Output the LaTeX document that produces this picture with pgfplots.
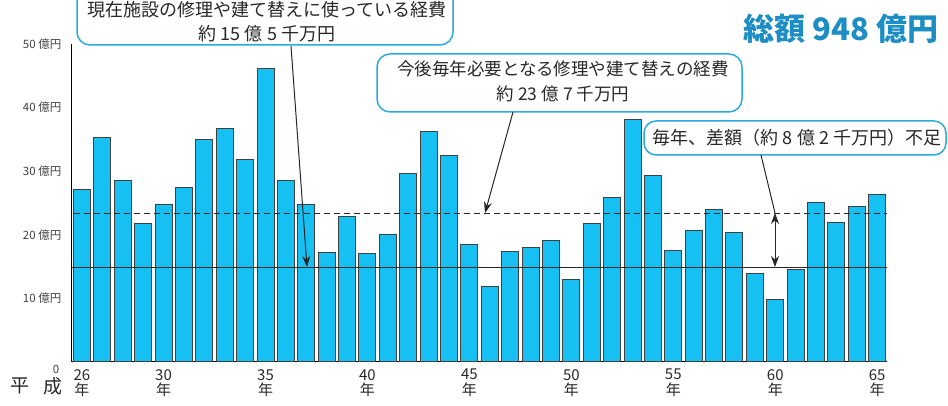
\documentclass[border=0pt]{standalone}
\usepackage{pgfplots}
\pgfplotsset{compat=1.18}
\usepackage{fontspec}
\setmainfont{Noto Sans CJK JP}
\usetikzlibrary{arrows.meta}

\definecolor{barfill}{RGB}{22,192,242}
\definecolor{boxline}{RGB}{43,169,225}
\definecolor{titleblue}{RGB}{28,142,196}
\definecolor{txt}{RGB}{40,40,40}

\begin{document}
\begin{tikzpicture}[x=1pt,y=1pt]
  \useasboundingbox (0pt,0pt) rectangle (948pt,406pt);
  \begin{axis}[
      at={(71.8pt,44pt)}, anchor=south west,
      scale only axis,
      width=815.6pt, height=318pt,
      xmin=25.5, xmax=65.5,
      ymin=0, ymax=50,
      axis x line=bottom, axis y line=left,
      axis line style={-, line width=1pt, black},
      major tick length=0pt,
      ybar, bar width=17pt,
      ytick={10,20,30,40,50},
      yticklabels={10 億円,20 億円,30 億円,40 億円,50 億円},
      yticklabel style={font=\fontsize{11.5}{11.5}\selectfont, text=black!75, xshift=-7pt},
      xtick={26,30,35,40,45,50,55,60,65},
      xticklabels={26\\年,30\\年,35\\年,40\\年,45\\年,50\\年,55\\年,60\\年,65\\年},
      xticklabel style={font=\fontsize{15}{15.5}\selectfont, text=txt, align=center, yshift=-6pt, inner sep=1pt},
  ]
  \addplot[fill=barfill, draw=black!75, line width=1pt, bar shift=0pt]
      coordinates {
          (26,27.2) (27,35.3) (28,28.5) (29,21.8) (30,24.7)
          (31,27.4) (32,35.0) (33,36.7) (34,31.9) (35,46.1)
          (36,28.5) (37,24.8) (38,17.2) (39,22.8) (40,17.1)
          (41,20.0) (42,29.6) (43,36.3) (44,32.5) (45,18.5)
          (46,11.8) (47,17.3) (48,18.0) (49,19.1) (50,12.9)
          (51,21.7) (52,25.8) (53,38.2) (54,29.3) (55,17.6)
          (56,20.7) (57,23.9) (58,20.3) (59,13.9) (60,9.9)
          (61,14.6) (62,25.0) (63,21.9) (64,24.4) (65,26.3)
      };
  % 今後必要な経費（破線）
  \addplot[sharp plot, draw=black!85, line width=1pt, dash pattern=on 6pt off 4pt]
      coordinates {(25.6,23.4) (65.5,23.4)};
  % 現在の経費（実線）
  \addplot[sharp plot, draw=black!85, line width=1.2pt]
      coordinates {(25.5,14.9) (65.5,14.9)};
  \end{axis}

  % 軸ラベル
  \node[font=\fontsize{11.5}{11.5}\selectfont, text=black!75] at (56,37) {0};
  \node[font=\fontsize{19}{19}\selectfont, text=txt] at (20,20) {平};
  \node[font=\fontsize{19}{19}\selectfont, text=txt] at (53,20) {成};

  % 総額
  \node[font=\fontsize{31}{31}\selectfont\bfseries, text=titleblue] at (841,377) {総額 948 億円};

  % 吹き出し 1
  \draw[boxline, fill=white, line width=1.5pt, rounded corners=13pt] (77,361) rectangle (453,425);
  \node[font=\fontsize{18}{18}\selectfont, text=txt] at (267,396) {現在施設の修理や建て替えに使っている経費};
  \node[font=\fontsize{18}{18}\selectfont, text=txt] at (267,372) {約 15 億 5 千万円};
  \draw[black!85, line width=1pt, -{Stealth[length=11pt,width=8pt]}] (291,360) -- (307,139);

  % 吹き出し 2
  \draw[boxline, fill=white, line width=1.5pt, rounded corners=13pt] (377,294) rectangle (742,352);
  \node[font=\fontsize{17.5}{17.5}\selectfont, text=txt] at (563,337) {今後毎年必要となる修理や建て替えの経費};
  \node[font=\fontsize{17.5}{17.5}\selectfont, text=txt] at (563,312) {約 23 億 7 千万円};
  \draw[black!85, line width=1pt, -{Stealth[length=11pt,width=8pt]}] (513,294) -- (485,193);

  % 吹き出し 3
  \draw[boxline, fill=white, line width=1.5pt, rounded corners=12pt] (644,251) rectangle (946,285);
  \node[font=\fontsize{18}{18}\selectfont, text=txt] at (797,268) {毎年、差額（約 8 億 2 千万円）不足};
  \draw[black!85, line width=1pt] (761,251) -- (775,193);
  \draw[black!85, line width=1pt, {Stealth[length=11pt,width=8pt]}-{Stealth[length=11pt,width=8pt]}] (775,193) -- (775,139);
\end{tikzpicture}
\end{document}
